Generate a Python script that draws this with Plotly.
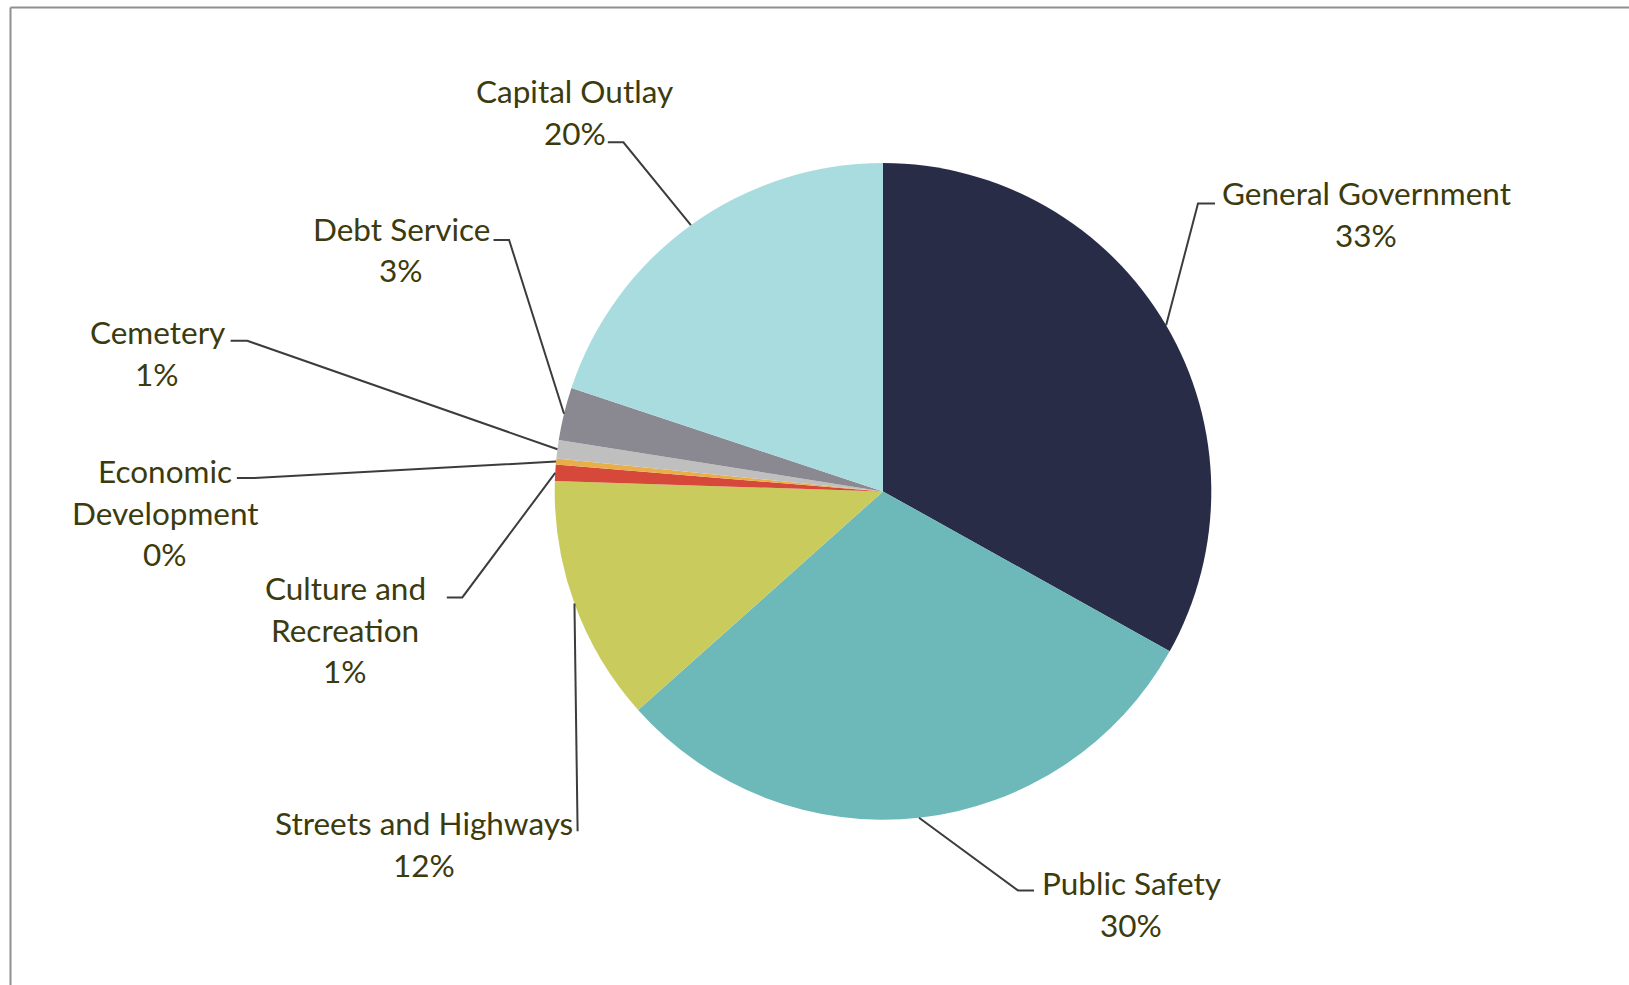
import math
import plotly.graph_objects as go

# ---------------- data ----------------
categories = [
    "General Government",
    "Public Safety",
    "Streets and Highways",
    "Culture and Recreation",
    "Economic Development",
    "Cemetery",
    "Debt Service",
    "Capital Outlay",
]
values = [33.1, 30.3, 12.1, 0.8, 0.3, 0.9, 2.6, 19.9]
colors = ["#282C47", "#6DB9BA", "#C9CC5C", "#D5483A", "#E8AE48", "#C0BFBF", "#8A8991", "#A8DCDE"]

# ---------------- style / layout ----------------
W, H = 1629, 985
CX, CY, R = 883.0, 491.4, 328.3          # pie centre and radius in pixels
FONT = "Lato"
FSIZE = 31.5
TXT = "#3B3B0E"
LINE_GAP = 41.5
LEADER = "#3C3C3C"

wrap = {
    "Economic Development": ["Economic", "Development"],
    "Culture and Recreation": ["Culture and", "Recreation"],
}
# label centre x, first line centre y, leader end point, leader elbow point (pixels)
label_pos = {
    "General Government":     dict(x=1366, y=193, end=(1215, 203.6), elbow=(1198, 203.6)),
    "Public Safety":          dict(x=1131, y=883, end=(1034, 890.4), elbow=(1018, 890.4)),
    "Streets and Highways":   dict(x=424,  y=823, end=(577.6, 831.2), elbow=(577.6, 831.2)),
    "Culture and Recreation": dict(x=345,  y=588, end=(446.8, 597.4), elbow=(462.3, 597.4)),
    "Economic Development":   dict(x=165,  y=471, end=(236.9, 477.9), elbow=(254.5, 477.9)),
    "Cemetery":               dict(x=157,  y=332.5, end=(230.6, 340.8), elbow=(247.3, 340.8)),
    "Debt Service":           dict(x=401,  y=228.6, end=(493.5, 240), elbow=(509.1, 240)),
    "Capital Outlay":         dict(x=574.5, y=91.4, end=(607.8, 142.3), elbow=(623.4, 142.3)),
}


def px(x):
    return x / W


def py(y):
    return 1 - y / H


fig = go.Figure(
    go.Pie(
        labels=categories,
        values=values,
        sort=False,
        direction="clockwise",
        rotation=0,
        marker=dict(colors=colors, line=dict(width=0)),
        textinfo="none",
        hoverinfo="label+percent",
        showlegend=False,
        domain=dict(x=[px(CX - R), px(CX + R)], y=[py(CY + R), py(CY - R)]),
    )
)

total = sum(values)
annotations = []
shapes = []
cum = 0.0
for name, v in zip(categories, values):
    mid = (cum + v / 2) / total * 360.0
    cum += v
    ax = CX + R * math.sin(math.radians(mid))
    ay = CY - R * math.cos(math.radians(mid))
    pos = label_pos[name]
    pct = f"{round(v / total * 100):.0f}%"
    lines = wrap.get(name, [name]) + [pct]
    for i, t in enumerate(lines):
        annotations.append(dict(
            x=px(pos["x"]), y=py(pos["y"] + i * LINE_GAP), xref="paper", yref="paper",
            text=t, showarrow=False, xanchor="center", yanchor="middle",
            font=dict(family=FONT, size=FSIZE, color=TXT),
        ))
    ex, ey = pos["end"]
    bx, by = pos["elbow"]
    shapes.append(dict(
        type="path", xref="paper", yref="paper",
        path=f"M {px(ex)},{py(ey)} L {px(bx)},{py(by)} L {px(ax)},{py(ay)}",
        line=dict(color=LEADER, width=2),
    ))

# chart frame (top and left edges visible)
shapes.append(dict(type="line", xref="paper", yref="paper", x0=px(10.5), x1=1.0, y0=py(7.5), y1=py(7.5),
                   line=dict(color="#8F8F8F", width=2)))
shapes.append(dict(type="line", xref="paper", yref="paper", x0=px(10.5), x1=px(10.5), y0=py(7.5), y1=0.0,
                   line=dict(color="#8F8F8F", width=2)))

fig.update_layout(
    width=W, height=H,
    margin=dict(l=0, r=0, t=0, b=0),
    paper_bgcolor="white", plot_bgcolor="white",
    annotations=annotations, shapes=shapes,
)

fig.write_html("out.html", config={"displayModeBar": False},
               post_script="document.body.style.margin='0px';")
